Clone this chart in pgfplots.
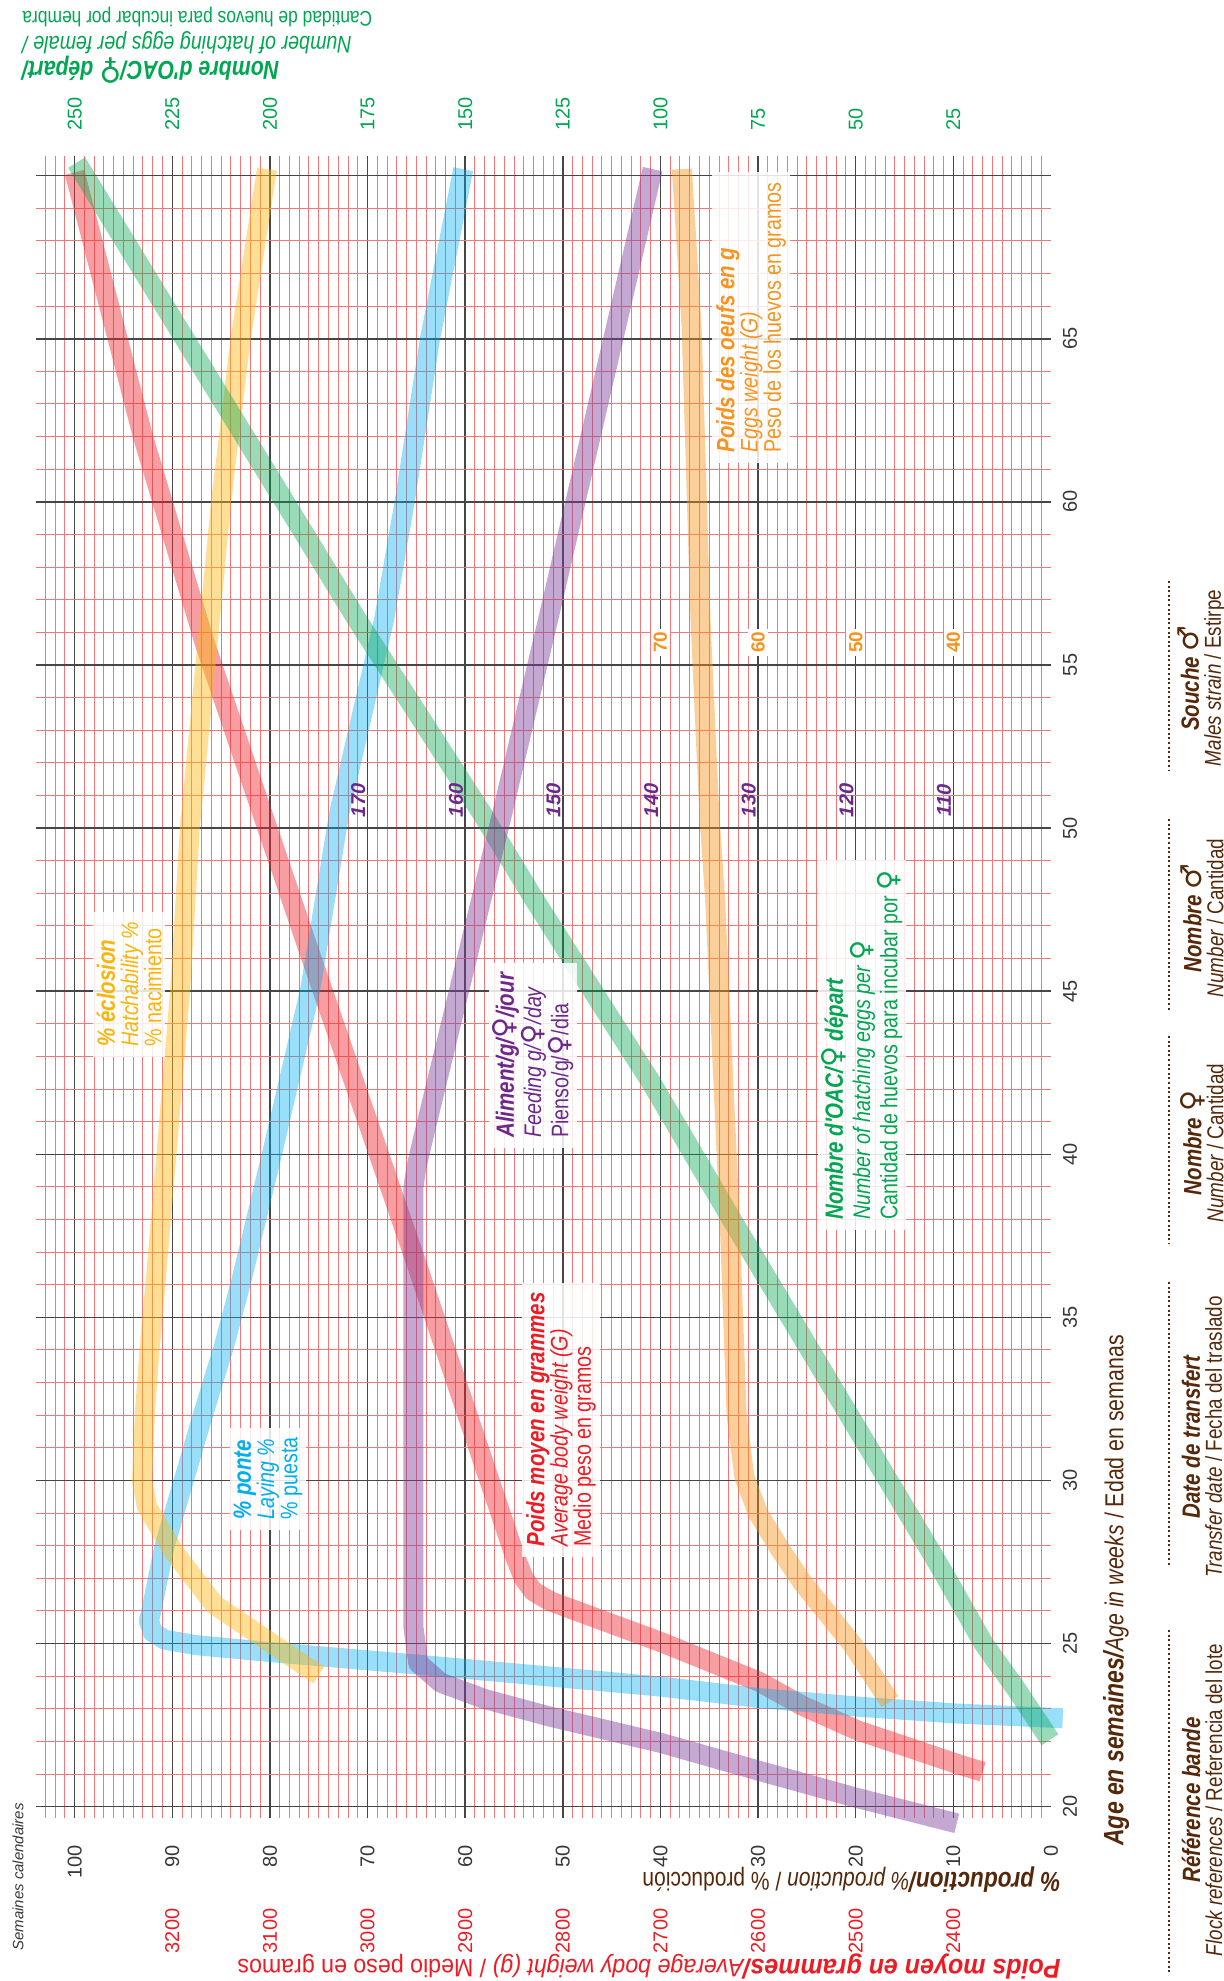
\documentclass[border=0pt]{standalone}
\usepackage{pgfplots}
\pgfplotsset{compat=1.18}
\usepackage{graphicx}
\usepackage{fontspec}
\setmainfont{Liberation Sans}
\newfontfamily\cond[FakeStretch=0.82]{Liberation Sans}
\newfontfamily\condb[FakeStretch=0.92]{Liberation Sans}
\newfontfamily\sym{DejaVu Sans}
\newcommand{\fe}{{\sym\scalebox{1.15}{♀}}}
\newcommand{\ma}{{\sym\scalebox{1.15}{♂}}}
\definecolor{cRed}{RGB}{236,40,48}
\definecolor{cBlue}{RGB}{0,174,239}
\definecolor{cYel}{RGB}{253,185,19}
\definecolor{cOra}{RGB}{247,148,29}
\definecolor{cGre}{RGB}{0,166,81}
\definecolor{cPur}{RGB}{127,63,152}
\definecolor{tRed}{RGB}{237,28,36}
\definecolor{tBlue}{RGB}{0,174,239}
\definecolor{tYel}{RGB}{250,180,10}
\definecolor{tOra}{RGB}{247,148,29}
\definecolor{tGre}{RGB}{0,166,81}
\definecolor{tPur}{RGB}{110,40,140}
\definecolor{brn}{RGB}{85,40,10}
\definecolor{gridred}{RGB}{240,120,120}
\definecolor{gridblk}{RGB}{70,70,70}
\definecolor{tickgray}{RGB}{55,55,55}
\begin{document}
\begin{tikzpicture}
\path[use as bounding box] (0,0) rectangle (611.5pt,990.5pt);
\begin{axis}[
  at={(271.65pt,496.95pt)}, anchor=center,
  scale only axis, width=507.7pt, height=831pt,
  x dir=reverse,
  xmin=0, xmax=104, ymin=19.65, ymax=70.6,
  axis line style={draw=none},
  xtick={10,20,...,100}, ytick={20,25,...,70},
  minor xtick={1,...,103}, minor ytick={20,...,70},
  xticklabels={}, yticklabels={},
  major tick length=0pt, minor tick length=0pt,
  grid=both,
  minor grid style={color=gridred, line width=0.5pt},
  major grid style={color=gridblk, line width=0.75pt},
  clip=false,
]
% Body weight (red)
\addplot[draw=cRed, line width=10pt, opacity=0.45, line join=round, line cap=butt] table[x=p,y=w] {
w p
21.07 7.0
21.34 9.9
22.35 19.9
23.10 25.5
23.83 29.9
25.04 39.9
26.30 51.3
26.60 53.0
27.00 54.0
27.60 54.8
28.30 55.6
36.66 65.0
46.5 76.3
55.6 86.6
62.0 93.0
70.1 100.0
};
% Laying (blue)
\addplot[draw=cBlue, line width=10pt, opacity=0.4, line join=round, line cap=butt] table[x=p,y=w] {
w p
22.71 -1.2
22.86 9.9
23.07 19.9
23.33 29.9
23.68 39.9
23.99 51.3
24.40 66.6
24.75 80.3
24.95 87.5
25.12 90.8
25.35 92.0
25.70 92.4
25.93 92.2
27.98 90.8
30.03 88.8
32.07 86.8
34.12 84.7
36.16 82.9
40.0 79.8
45.0 75.9
50.46 72.9
56.4 68.3
60.0 66.2
65.0 63.6
70.2 60.2
};
% Hatchability (yellow)
\addplot[draw=cYel, line width=10pt, opacity=0.45, line join=round, line cap=butt] table[x=p,y=w] {
w p
24.04 75.0
24.9 79.3
26.2 85.7
27.8 89.8
29.2 92.6
30.0 93.1
32.1 92.8
34.1 92.3
36.1 91.7
40.0 90.6
45.0 89.2
50.0 88.2
55.0 86.6
60.0 85.0
65.0 83.0
70.2 80.3
};
% Hatching eggs (green)
\addplot[draw=cGre, line width=10pt, opacity=0.4, line join=round, line cap=butt] table[x=p,y=w] {
w p
22.05 0.1
23.58 3.5
25.0 6.9
27.16 11.0
27.87 12.4
37.9 32.5
42.18 40.9
47.8 52.9
50.46 58.3
56.4 71.1
70.4 99.8
};
% Egg weight (orange)
\addplot[draw=cOra, line width=10pt, opacity=0.45, line join=round, line cap=butt] table[x=p,y=w] {
w p
23.22 16.5
25.0 20.4
26.85 25.4
27.87 27.7
29.0 30.0
30.1 31.4
32.0 32.2
37.9 32.9
47.8 34.4
50.46 35.0
56.4 35.9
65.3 36.8
70.2 37.8
};
% Feed (purple)
\addplot[draw=cPur, line width=10pt, opacity=0.45, line join=round, line cap=butt] table[x=p,y=w] {
w p
19.49 9.65
20.27 19.9
21.10 29.9
21.95 39.9
22.76 51.3
23.30 58.0
23.80 62.5
24.40 64.8
25.50 65.3
39.00 65.3
39.60 65.0
40.50 64.3
50.46 56.2
56.4 51.5
70.2 40.8
};
% production tick labels
\begin{scope}[every node/.style={rotate=90, anchor=east, text=tickgray, font=\fontsize{10}{10}\selectfont}]
\node at (axis cs:100,19.04) {100};
\node at (axis cs:90,19.04) {90};
\node at (axis cs:80,19.04) {80};
\node at (axis cs:70,19.04) {70};
\node at (axis cs:60,19.04) {60};
\node at (axis cs:50,19.04) {50};
\node at (axis cs:40,19.04) {40};
\node at (axis cs:30,19.04) {30};
\node at (axis cs:20,19.04) {20};
\node at (axis cs:10,19.04) {10};
\node at (axis cs:0,19.04) {0};
\end{scope}
% body weight tick labels
\begin{scope}[every node/.style={rotate=90, anchor=east, text=tRed, font=\fontsize{10}{10}\selectfont}]
\node at (axis cs:90,17.09) {3200};
\node at (axis cs:80,17.09) {3100};
\node at (axis cs:70,17.09) {3000};
\node at (axis cs:60,17.09) {2900};
\node at (axis cs:50,17.09) {2800};
\node at (axis cs:40,17.09) {2700};
\node at (axis cs:30,17.09) {2600};
\node at (axis cs:20,17.09) {2500};
\node at (axis cs:10,17.09) {2400};
\end{scope}
% eggs tick labels
\begin{scope}[every node/.style={rotate=90, anchor=west, text=tGre, font=\fontsize{10}{10}\selectfont}]
\node at (axis cs:100,71.16) {250};
\node at (axis cs:90,71.16) {225};
\node at (axis cs:80,71.16) {200};
\node at (axis cs:70,71.16) {175};
\node at (axis cs:60,71.16) {150};
\node at (axis cs:50,71.16) {125};
\node at (axis cs:40,71.16) {100};
\node at (axis cs:30,71.16) {75};
\node at (axis cs:20,71.16) {50};
\node at (axis cs:10,71.16) {25};
\end{scope}
% age tick labels
\begin{scope}[every node/.style={rotate=90, anchor=center, text=tickgray, font=\fontsize{10}{10}\selectfont}]
\node at (axis cs:-1.95,20) {20};
\node at (axis cs:-1.95,25) {25};
\node at (axis cs:-1.95,30) {30};
\node at (axis cs:-1.95,35) {35};
\node at (axis cs:-1.95,40) {40};
\node at (axis cs:-1.95,45) {45};
\node at (axis cs:-1.95,50) {50};
\node at (axis cs:-1.95,55) {55};
\node at (axis cs:-1.95,60) {60};
\node at (axis cs:-1.95,65) {65};
\end{scope}
% feed labels
\begin{scope}[every node/.style={rotate=90, anchor=center, text=tPur, font=\fontsize{10}{10}\selectfont\bfseries\itshape}]
\node at (axis cs:70.95,50.85) {170};
\node at (axis cs:60.95,50.85) {160};
\node at (axis cs:50.95,50.85) {150};
\node at (axis cs:40.95,50.85) {140};
\node at (axis cs:30.95,50.85) {130};
\node at (axis cs:20.95,50.85) {120};
\node at (axis cs:10.95,50.85) {110};
\end{scope}
% egg weight labels
\begin{scope}[every node/.style={rotate=90, anchor=center, text=tOra, fill=white, inner sep=1.5pt, font=\fontsize{9.5}{9.5}\selectfont\bfseries}]
\node at (axis cs:40,55.7) {70};
\node at (axis cs:30,55.7) {60};
\node at (axis cs:20,55.7) {50};
\node at (axis cs:10,55.7) {40};
\end{scope}
\end{axis}
\begin{scope}[x=0.5pt, y=-0.5pt, shift={(0pt,990.5pt)}]
% inner labels
\tikzset{lab/.style={rotate=90, anchor=west, align=left, fill=white, fill opacity=0.85, text opacity=1, inner xsep=5pt, inner ysep=2pt, font=\fontsize{12}{11.6}\selectfont}}
\node[lab, text=tBlue] at (268,1530) {{\cond\fontsize{12.5}{11.6}\selectfont\bfseries\itshape \% ponte}\\{\cond\itshape Laying \%}\\{\cond \% puesta}};
\node[lab, text=tRed] at (561,1557) {{\cond\fontsize{12.5}{11.6}\selectfont\bfseries\itshape Poids moyen en grammes}\\{\cond\itshape Average body weight (G)}\\{\cond Medio peso en gramos}};
\node[lab, text=tPur] at (533,1148) {{\cond\fontsize{12.5}{11.6}\selectfont\bfseries\itshape Aliment/g/\fe/jour}\\{\cond\itshape Feeding g/\fe/day}\\{\cond Pienso/g/\fe/dia}};
\node[lab, text=tGre] at (862,1230) {{\cond\fontsize{12.5}{11.6}\selectfont\bfseries\itshape Nombre d'OAC/\fe\ départ}\\{\cond\itshape Number of hatching eggs per \fe}\\{\cond Cantidad de huevos para incubar por \fe}};
\node[lab, text=tYel] at (129,1057) {{\cond\fontsize{12.5}{11.6}\selectfont\bfseries\itshape \% éclosion}\\{\cond\itshape Hatchability \%}\\{\cond \% nacimiento}};
\node[lab, text=tOra] at (751,463) {{\cond\fontsize{12.5}{11.6}\selectfont\bfseries\itshape Poids des oeufs en g}\\{\cond\itshape Eggs weight (G)}\\{\cond Peso de los huevos en gramos}};
% top green title (upside down)
\node[rotate=180, anchor=east, text=tGre, inner sep=0pt, font=\cond\fontsize{13}{13}\selectfont\bfseries\itshape] at (22,70) {Nombre d'OAC/\fe\ départ/};
\node[rotate=180, anchor=east, text=tGre, inner sep=0pt, font=\cond\fontsize{12}{12}\selectfont\itshape] at (22,43) {Number of hatching eggs per female /};
\node[rotate=180, anchor=east, text=tGre, inner sep=0pt, font=\cond\fontsize{10.6}{10.6}\selectfont] at (22,17) {Cantidad de huevos para incubar por hembra};
% bottom titles (upside down)
\node[rotate=180, anchor=west, text=brn, inner sep=0pt] at (1061,1880) {{\cond\fontsize{13.8}{13.8}\selectfont\bfseries\itshape \% production/}{\cond\fontsize{12.8}{12.8}\selectfont\itshape \% production}{\cond\fontsize{12.8}{12.8}\selectfont{} / \% producción}};
\node[rotate=180, anchor=west, text=tRed, inner sep=0pt] at (1061,1967) {{\condb\fontsize{13.6}{13.6}\selectfont\bfseries\itshape Poids moyen en grammes/}{\condb\fontsize{12.6}{12.6}\selectfont\itshape Average body weight (g)}{\condb\fontsize{12.6}{12.6}\selectfont{} / Medio peso en gramos}};
\node[rotate=90, text=tickgray, inner sep=0pt, font=\fontsize{7.5}{7.5}\selectfont\itshape] at (18,1877) {Semaines calendaires};
% age title
\node[rotate=90, anchor=west, text=brn, inner sep=0pt] at (1116,1846) {{\cond\fontsize{14}{14}\selectfont\bfseries\itshape Age en semaines/}{\cond\fontsize{13}{13}\selectfont\itshape Age in weeks}{\cond\fontsize{13}{13}\selectfont{} / Edad en semanas}};
% table
\tikzset{col/.style={rotate=90, align=center, text=brn, inner sep=0pt}}
\node[col] at (1202,1800) {{\cond\fontsize{12.5}{12.5}\selectfont\bfseries\itshape Référence bande}\\[-1pt]{\cond\fontsize{11.5}{11.5}\selectfont\itshape Flock references}{\cond\fontsize{11.5}{11.5}\selectfont{} / Referencia del lote}};
\node[col] at (1202,1437) {{\cond\fontsize{12.5}{12.5}\selectfont\bfseries\itshape Date de transfert}\\[-1pt]{\cond\fontsize{11.5}{11.5}\selectfont\itshape Transfer date}{\cond\fontsize{11.5}{11.5}\selectfont{} / Fecha del traslado}};
\node[col] at (1202,1143) {{\cond\fontsize{12.5}{12.5}\selectfont\bfseries\itshape Nombre \fe}\\[-1pt]{\cond\fontsize{11.5}{11.5}\selectfont\itshape Number}{\cond\fontsize{11.5}{11.5}\selectfont{} / Cantidad}};
\node[col] at (1202,918) {{\cond\fontsize{12.5}{12.5}\selectfont\bfseries\itshape Nombre \ma}\\[-1pt]{\cond\fontsize{11.5}{11.5}\selectfont\itshape Number}{\cond\fontsize{11.5}{11.5}\selectfont{} / Cantidad}};
\node[col] at (1202,678) {{\cond\fontsize{12.5}{12.5}\selectfont\bfseries\itshape Souche \ma}\\[-1pt]{\cond\fontsize{11.5}{11.5}\selectfont\itshape Males strain}{\cond\fontsize{11.5}{11.5}\selectfont{} / Estirpe}};
\tikzset{dl/.style={draw=brn, line width=1pt, dash pattern=on 1pt off 1.3pt}}
\draw[dl] (1169,1630) -- (1169,1975);
\draw[dl] (1169,1282) -- (1169,1567);
\draw[dl] (1169,1036) -- (1169,1244);
\draw[dl] (1169,819) -- (1169,1011);
\draw[dl] (1169,581) -- (1169,771);
\end{scope}
\end{tikzpicture}
\end{document}
